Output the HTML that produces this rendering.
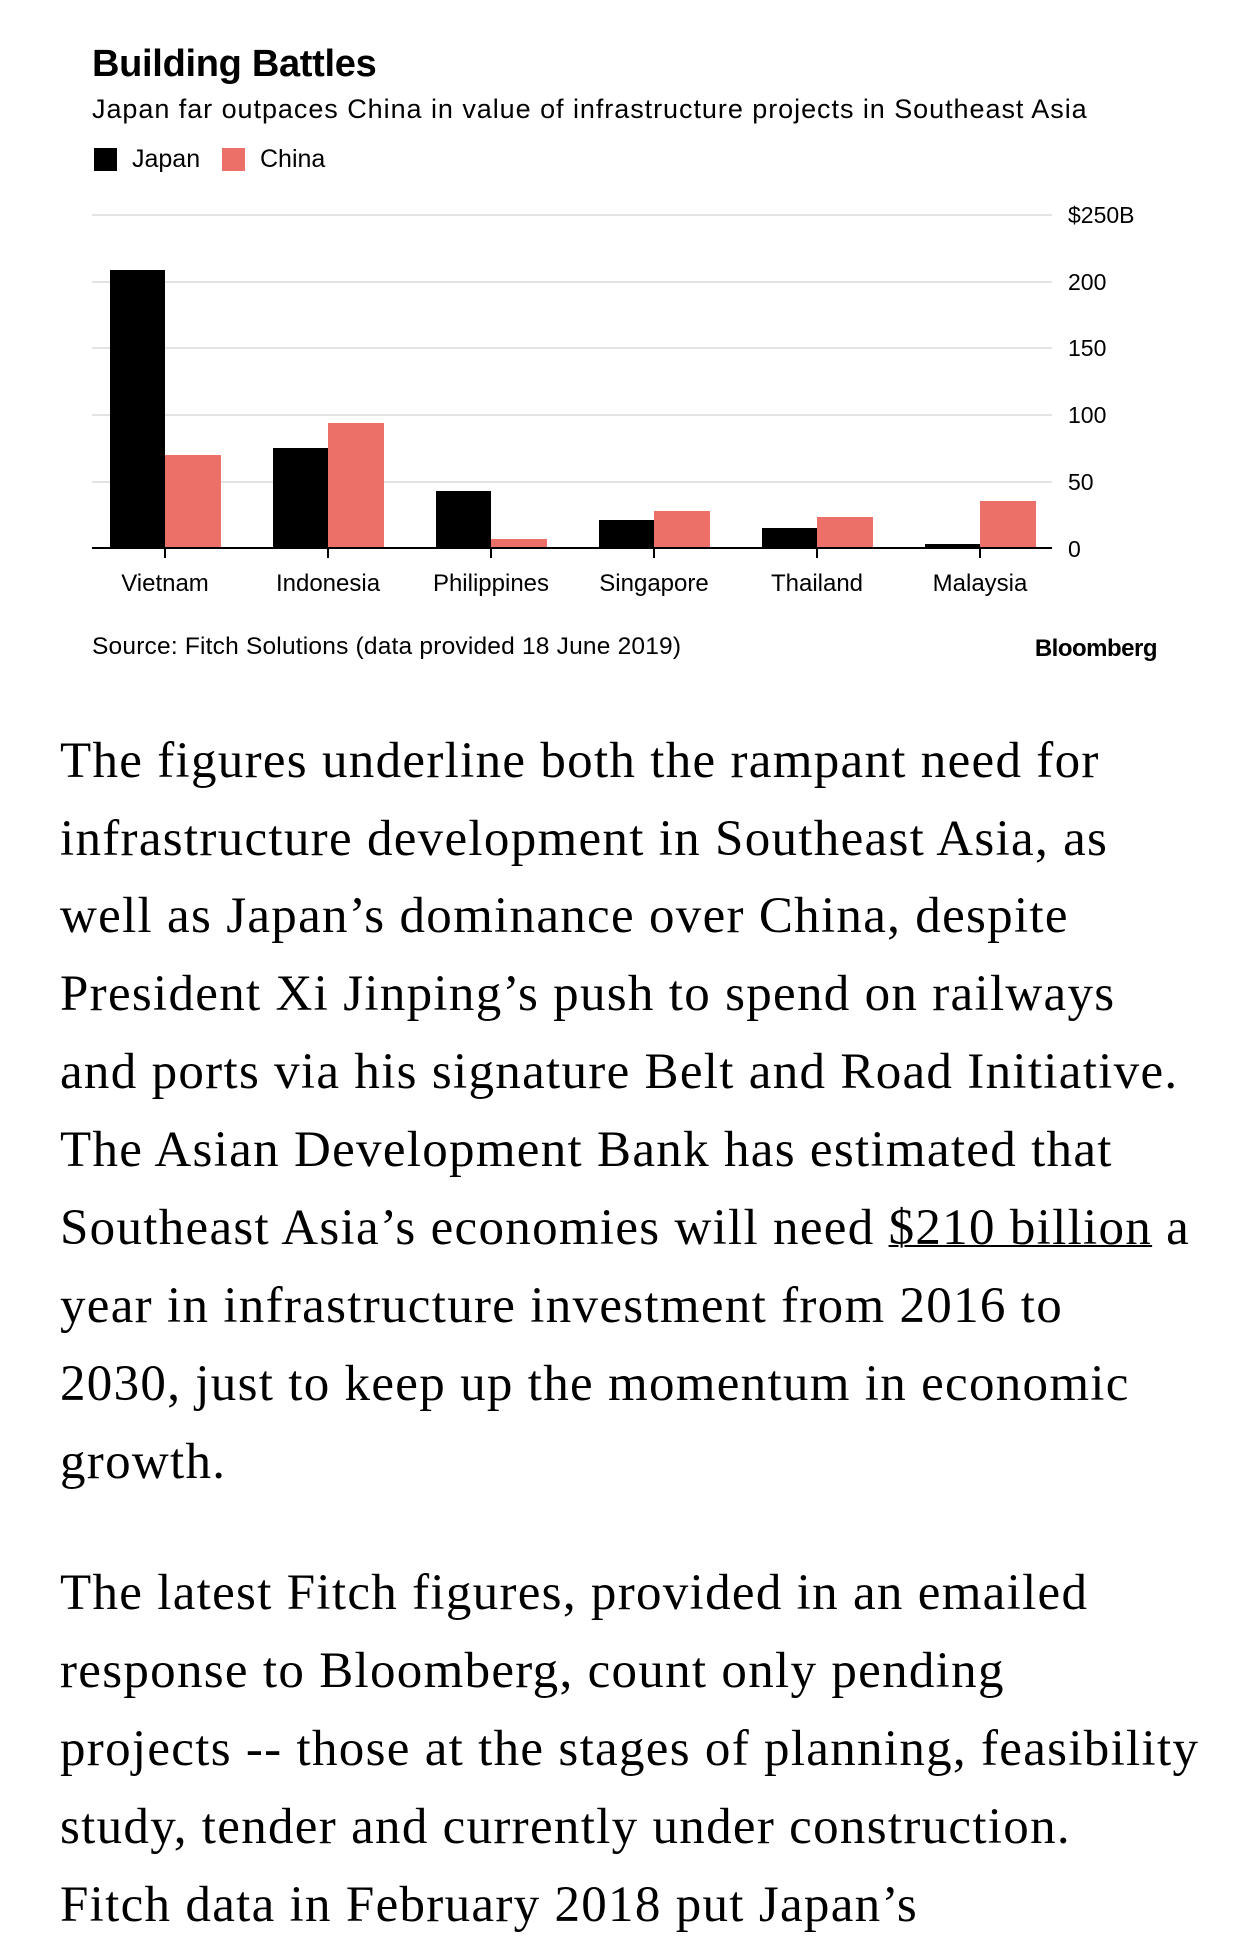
<!DOCTYPE html>
<html><head><meta charset="utf-8"><style>
html,body{margin:0;padding:0;background:#fff;}
body{width:1242px;height:1952px;position:relative;overflow:hidden;font-family:"Liberation Sans",sans-serif;color:#000;}
.a{position:absolute;white-space:nowrap;}
.t{font-family:"Liberation Serif",serif;font-size:51px;left:60px;letter-spacing:1.3px;line-height:1;}
</style></head><body>
<div class="a" style="left:92px;top:43px;font-size:38px;font-weight:bold;letter-spacing:-0.3px">Building Battles</div>
<div class="a" style="left:92px;top:94px;font-size:27px;letter-spacing:0.95px">Japan far outpaces China in value of infrastructure projects in Southeast Asia</div>
<div class="a" style="left:94px;top:148px;width:23px;height:23px;background:#000"></div>
<div class="a" style="left:132px;top:145px;font-size:25px;">Japan</div>
<div class="a" style="left:222px;top:148px;width:23px;height:23px;background:#ec7067"></div>
<div class="a" style="left:260px;top:145px;font-size:25px;">China</div>
<svg class="a" style="left:0;top:0" width="1242" height="700">
<g stroke="#e3e3e3" stroke-width="2">
<line x1="92" x2="1052" y1="215" y2="215"/><line x1="92" x2="1052" y1="282" y2="282"/>
<line x1="92" x2="1052" y1="348" y2="348"/><line x1="92" x2="1052" y1="415" y2="415"/>
<line x1="92" x2="1052" y1="482" y2="482"/></g>
<g font-family="Liberation Sans" font-size="23" fill="#000">
<text x="1068" y="223">$250B</text><text x="1068" y="290">200</text><text x="1068" y="356">150</text>
<text x="1068" y="423">100</text><text x="1068" y="490">50</text><text x="1068" y="557">0</text></g>
<g fill="#000">
<rect x="110" y="270" width="55" height="278"/>
<rect x="273" y="448" width="55" height="100"/>
<rect x="436" y="491" width="55" height="57"/>
<rect x="599" y="520" width="55" height="28"/>
<rect x="762" y="528" width="55" height="20"/>
<rect x="925" y="544" width="55" height="4"/></g>
<g fill="#ec7067">
<rect x="165" y="455" width="56" height="93"/>
<rect x="328" y="423" width="56" height="125"/>
<rect x="491" y="539" width="56" height="9"/>
<rect x="654" y="511" width="56" height="37"/>
<rect x="817" y="517" width="56" height="31"/>
<rect x="980" y="501" width="56" height="47"/></g>
<line x1="92" x2="1052" y1="548" y2="548" stroke="#000" stroke-width="2"/>
<g stroke="#000" stroke-width="2">
<line x1="165" x2="165" y1="548" y2="558"/><line x1="328" x2="328" y1="548" y2="558"/>
<line x1="491" x2="491" y1="548" y2="558"/><line x1="654" x2="654" y1="548" y2="558"/>
<line x1="817" x2="817" y1="548" y2="558"/><line x1="980" x2="980" y1="548" y2="558"/></g>
<g font-family="Liberation Sans" font-size="24" text-anchor="middle">
<text x="165" y="591">Vietnam</text><text x="328" y="591">Indonesia</text><text x="491" y="591">Philippines</text>
<text x="654" y="591">Singapore</text><text x="817" y="591">Thailand</text><text x="980" y="591">Malaysia</text></g>
<text x="92" y="654" font-family="Liberation Sans" font-size="24.5" letter-spacing="0.2">Source: Fitch Solutions (data provided 18 June 2019)</text>
<text x="1157" y="656" font-family="Liberation Sans" font-size="24" font-weight="bold" text-anchor="end" letter-spacing="-0.5">Bloomberg</text>
</svg>
<div class="a t" style="top:736px">The figures underline both the rampant need for</div>
<div class="a t" style="top:814px">infrastructure development in Southeast Asia, as</div>
<div class="a t" style="top:891px">well as Japan’s dominance over China, despite</div>
<div class="a t" style="top:969px">President Xi Jinping’s push to spend on railways</div>
<div class="a t" style="top:1047px">and ports via his signature Belt and Road Initiative.</div>
<div class="a t" style="top:1125px">The Asian Development Bank has estimated that</div>
<div class="a t" style="top:1203px">Southeast Asia’s economies will need <span style="text-decoration:underline;text-decoration-thickness:2px">$210 billion</span> a</div>
<div class="a t" style="top:1281px">year in infrastructure investment from 2016 to</div>
<div class="a t" style="top:1359px">2030, just to keep up the momentum in economic</div>
<div class="a t" style="top:1437px">growth.</div>
<div class="a t" style="top:1568px">The latest Fitch figures, provided in an emailed</div>
<div class="a t" style="top:1646px">response to Bloomberg, count only pending</div>
<div class="a t" style="top:1724px">projects -- those at the stages of planning, feasibility</div>
<div class="a t" style="top:1802px">study, tender and currently under construction.</div>
<div class="a t" style="top:1880px">Fitch data in February 2018 put Japan’s</div>
</body></html>
